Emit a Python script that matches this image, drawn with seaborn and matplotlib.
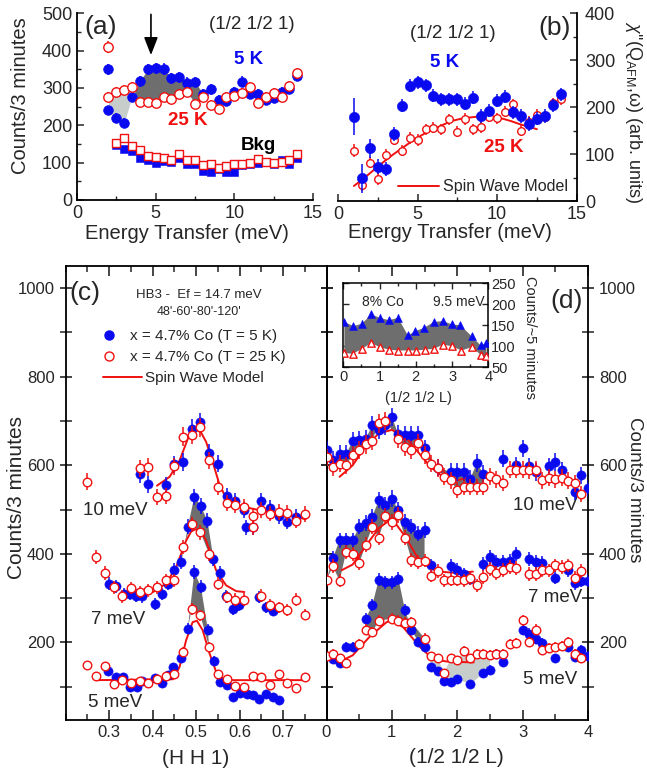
import numpy as np
import matplotlib
matplotlib.use("Agg")
import matplotlib.pyplot as plt
from matplotlib.ticker import MultipleLocator, FixedLocator
from matplotlib.lines import Line2D
import seaborn as sns

# ---------------- data ----------------
# (a) constant-Q energy scans at (1/2 1/2 1)
a_E = [2, 2.5, 3, 3.5, 4, 4.5, 5, 5.5, 6, 6.5, 7, 7.5, 8, 8.5, 9, 9.5, 10,
       10.5, 11, 11.5, 12, 12.5, 13, 13.5, 14]
a_sig5 = [240, 220, 207, 277, 318, 350, 353, 351, 326, 329, 314, 316, 285, 296,
          268, 265, 288, 317, 284, 284, 268, 273, 288, 297, 332]
a_sig25 = [277, 288, 295, 303, 262, 262, 260, 277, 271, 284, 290, 258, 276, 254,
           245, 276, 278, 287, 303, 260, 277, 287, 275, 306, 340]
a_extra_E = [2]
a_extra5 = [350]
a_extra25 = [410]
a_bkgE = [2.5, 3, 3.5, 4, 4.5, 5, 5.5, 6, 6.5, 7, 7.5, 8, 8.5, 9, 9.5, 10,
          10.5, 11, 11.5, 12, 12.5, 13, 13.5, 14]
a_bkg5 = [148, 137, 131, 113, 108, 99, 104, 102, 113, 97, 97, 78, 75, 84, 75, 75,
          95, 96, 100, 102, 97, 106, 96, 113]
a_bkg25 = [152, 166, 144, 135, 117, 115, 113, 108, 124, 108, 106, 93, 97, 86, 91,
           97, 96, 98, 110, 102, 100, 102, 108, 122]

# (b) chi'' at Q_AFM
b_E = [1, 1.5, 2, 2.5, 3, 3.5, 4, 4.5, 5, 5.5, 6, 6.5, 7, 7.5, 8, 8.5, 9, 9.5,
       10, 10.5, 11, 11.5, 12, 12.5, 13, 13.5, 14]
b_5K = [180, 48, 112, 73, 68, 142, 203, 246, 253, 247, 224, 217, 217, 217, 207,
        220, 181, 192, 214, 222, 189, 181, 164, 175, 181, 204, 227]
b_5K_err = [40, 30, 20, 16, 15, 15, 14, 14, 14, 14, 14, 14, 14, 14, 14, 14, 14,
            14, 14, 14, 14, 14, 14, 14, 14, 14, 14]
b_25K = [107, 35, 82, 47, 98, 131, 107, 134, 130, 153, 156, 153, 174, 148, 175,
         153, 157, 180, 176, 190, 206, 150, 169, 183, 180, 208, 217]
b_25K_err = [14, 14, 12, 12, 12, 12, 12, 12, 12, 12, 12, 12, 12, 12, 12, 12, 12,
             12, 12, 12, 12, 12, 12, 12, 12, 12, 12]
b_model_E = [1, 1.5, 2, 2.5, 3, 3.5, 4, 4.5, 5.1, 5.6, 6.2, 6.7, 7.2, 7.7, 8.3,
             8.8, 9.3, 9.8, 10.4, 10.9, 11.4, 12, 12.5]
b_model = [32, 45, 59, 73, 87, 100, 112, 124, 137, 147, 156, 164, 171, 175, 178,
           180, 180, 178, 175, 170, 164, 158, 153]

# (c) (H H 1) scans
c10_H5 = [0.37, 0.39, 0.43, 0.45, 0.47, 0.49, 0.51, 0.53, 0.55, 0.57, 0.59, 0.61,
          0.65, 0.67, 0.69, 0.71, 0.73]
c10_5K = [580, 557, 555, 602, 608, 683, 698, 628, 604, 530, 519, 500, 519, 503,
          486, 473, 484]
c10_H25 = [0.25, 0.37, 0.39, 0.41, 0.43, 0.45, 0.47, 0.49, 0.51, 0.53, 0.55, 0.57,
           0.59, 0.61, 0.63, 0.65, 0.67, 0.69, 0.71, 0.73, 0.75]
c10_25K = [563, 593, 596, 529, 531, 598, 665, 668, 686, 611, 551, 515, 510, 507,
           486, 499, 491, 495, 493, 475, 490]
c10_modH = [0.41, 0.439, 0.462, 0.481, 0.492, 0.5, 0.511, 0.523, 0.538, 0.553,
            0.569, 0.584, 0.615, 0.645, 0.683, 0.721, 0.752]
c10_mod = [554, 574, 611, 660, 677, 680, 675, 653, 608, 559, 525, 514, 505, 499,
           493, 486, 478]

c7_H5 = [0.299, 0.315, 0.334, 0.347, 0.361, 0.376, 0.405, 0.421, 0.435, 0.450,
         0.466, 0.481, 0.496, 0.511, 0.526, 0.540, 0.555, 0.569, 0.584, 0.599,
         0.614, 0.630, 0.644, 0.660, 0.677]
c7_5K = [333, 327, 309, 309, 306, 304, 286, 309, 333, 364, 381, 461, 529, 508,
         475, 389, 357, 304, 276, 284, 460, 460, 303, 279, 272]
c7_H25 = [0.27, 0.29, 0.31, 0.33, 0.35, 0.37, 0.39, 0.41, 0.43, 0.45, 0.47, 0.49,
          0.51, 0.53, 0.55, 0.57, 0.59, 0.61, 0.63, 0.65, 0.67, 0.69, 0.71, 0.73,
          0.75]
c7_25K = [394, 357, 325, 304, 323, 314, 318, 325, 340, 340, 416, 467, 449, 400,
          333, 303, 297, 297, 460, 306, 284, 279, 274, 297, 263]
c7_modH = [0.355, 0.401, 0.431, 0.454, 0.477, 0.489, 0.5, 0.511, 0.523, 0.546,
           0.569, 0.592, 0.611]
c7_mod = [312, 314, 333, 370, 430, 451, 456, 451, 430, 363, 329, 316, 314]

c5_H5 = [0.298, 0.315, 0.332, 0.347, 0.363, 0.376, 0.405, 0.422, 0.435, 0.448,
         0.466, 0.481, 0.496, 0.511, 0.527, 0.542, 0.555, 0.570, 0.585, 0.601,
         0.616, 0.630, 0.645, 0.660, 0.676, 0.691]
c5_5K = [136, 122, 122, 100, 100, 114, 119, 109, 127, 145, 166, 231, 359, 326,
         229, 159, 110, 103, 78, 85, 84, 81, 73, 83, 76, 70]
c5_H25 = [0.25, 0.27, 0.29, 0.31, 0.33, 0.35, 0.37, 0.39, 0.41, 0.43, 0.45, 0.47,
          0.49, 0.51, 0.53, 0.55, 0.57, 0.59, 0.61, 0.63, 0.65, 0.67, 0.69, 0.71,
          0.73, 0.75]
c5_25K = [149, 124, 147, 106, 115, 108, 112, 108, 117, 124, 129, 179, 276, 261,
          189, 129, 117, 102, 100, 124, 123, 105, 129, 109, 97, 121]
c5_modH = [0.271, 0.447, 0.462, 0.477, 0.492, 0.502, 0.515, 0.531, 0.546, 0.561,
           0.584, 0.75]
c5_mod = [115, 117, 145, 205, 246, 249, 228, 175, 134, 119, 115, 115]

# (d) (1/2 1/2 L) scans
d10_L5 = [0.0, 0.1, 0.2, 0.3, 0.4, 0.5, 0.6, 0.7, 0.8, 0.9, 1.0, 1.1, 1.2, 1.3,
          1.4, 1.5, 1.7, 1.9, 2.0, 2.1, 2.2, 2.3, 2.4, 2.7, 2.9, 3.0, 3.1, 3.2,
          3.4, 3.5, 3.6, 3.8, 3.9, 4.0]
d10_5K = [634, 613, 626, 625, 655, 658, 660, 690, 680, 690, 709, 670, 668, 668,
          668, 638, 595, 585, 585, 585, 570, 605, 581, 615, 600, 638, 598, 585,
          598, 608, 589, 540, 578, 548]
d10_L25 = [0.0, 0.1, 0.2, 0.3, 0.4, 0.5, 0.6, 0.7, 0.8, 0.9, 1.1, 1.2, 1.3, 1.4,
           1.5, 1.6, 1.7, 1.8, 1.9, 2.0, 2.1, 2.2, 2.3, 2.4, 2.5, 2.6, 2.7, 2.8,
           2.9, 3.0, 3.1, 3.2, 3.3, 3.4, 3.5, 3.6, 3.7, 3.8, 3.9]
d10_25K = [618, 596, 604, 600, 623, 634, 647, 656, 695, 700, 660, 641, 635, 650,
           623, 604, 594, 574, 566, 544, 551, 551, 551, 551, 575, 568, 560, 590,
           590, 590, 589, 590, 566, 572, 568, 572, 565, 559, 535]
d10_modL = [0.2, 0.4, 0.6, 0.8, 1.0, 1.2, 1.4, 1.6, 1.8, 2.0, 2.2]
d10_mod = [574, 600, 643, 672, 680, 665, 630, 595, 572, 566, 574]

d7_L5 = [0.1, 0.2, 0.3, 0.4, 0.5, 0.6, 0.7, 0.8, 0.9, 1.0, 1.1, 1.2, 1.3, 1.4,
         1.5, 1.6, 1.9, 2.0, 2.1, 2.2, 2.4, 2.5, 2.6, 2.7, 2.8, 2.9, 3.1, 3.2,
         3.3, 3.5, 3.7, 3.8, 3.9, 4.0]
d7_5K = [391, 431, 431, 431, 461, 470, 484, 521, 510, 525, 499, 473, 461, 446,
         454, 374, 372, 364, 354, 344, 378, 394, 381, 381, 385, 400, 389, 381,
         379, 346, 364, 334, 339, 339]
d7_L25 = [0.0, 0.1, 0.2, 0.3, 0.4, 0.5, 0.6, 0.7, 0.8, 0.9, 1.0, 1.1, 1.2, 1.3,
          1.4, 1.5, 1.6, 1.7, 1.8, 1.9, 2.0, 2.1, 2.2, 2.3, 2.4, 2.5, 2.6, 2.7,
          2.8, 2.9, 3.1, 3.2, 3.3, 3.4, 3.5, 3.6, 3.7, 3.8, 3.9]
d7_25K = [342, 372, 339, 404, 399, 379, 421, 461, 437, 485, 472, 488, 437, 387,
          381, 385, 351, 361, 340, 342, 342, 340, 345, 329, 348, 366, 357, 364,
          370, 368, 355, 355, 363, 363, 374, 370, 374, 346, 361]
d7_modL = [0.23, 0.4, 0.6, 0.8, 1.0, 1.2, 1.4, 1.6, 1.8, 2.0, 2.24]
d7_mod = [363, 376, 418, 458, 480, 440, 390, 366, 359, 357, 360]

d5_L5 = [0.1, 0.2, 0.3, 0.4, 0.6, 0.7, 0.8, 0.9, 1.0, 1.1, 1.2, 1.3, 1.4, 1.5,
         1.6, 1.7, 1.8, 1.9, 2.0, 2.2, 2.4, 2.5, 2.6, 2.7, 3.0, 3.1, 3.2, 3.3,
         3.5, 3.7, 3.8, 3.9, 4.0]
d5_5K = [162, 154, 189, 189, 254, 284, 342, 336, 336, 344, 274, 229, 202, 189,
         145, 136, 112, 110, 117, 106, 130, 139, 175, 157, 228, 220, 207, 199,
         164, 190, 168, 183, 169]
d5_L25 = [0.0, 0.1, 0.2, 0.3, 0.5, 0.6, 0.7, 0.8, 1.0, 1.1, 1.2, 1.3, 1.5, 1.6,
          1.7, 1.8, 1.9, 2.0, 2.1, 2.2, 2.3, 2.4, 2.5, 2.6, 2.7, 2.8, 2.9, 3.0,
          3.1, 3.2, 3.3, 3.4, 3.5, 3.6, 3.7, 3.8, 3.9]
d5_25K = [169, 175, 164, 153, 197, 229, 224, 249, 254, 249, 244, 246, 209, 169,
          164, 132, 164, 160, 181, 164, 175, 174, 172, 175, 175, 197, 198, 250,
          201, 229, 183, 187, 190, 192, 201, 175, 166]
d5_modL = [0.15, 0.4, 0.66, 0.92, 1.0, 1.17, 1.43, 1.63, 1.84, 2.25]
d5_mod = [153, 171, 213, 246, 249, 235, 190, 162, 157, 155]

# inset of (d): 8% Co, 9.5 meV
i_L5 = [0.03, 0.28, 0.52, 0.77, 1.0, 1.26, 1.51, 1.78, 1.99, 2.23, 2.5, 2.75,
        3.0, 3.23, 3.54, 3.79, 3.95]
i_5K = [158, 148, 154, 176, 168, 162, 168, 126, 136, 144, 158, 160, 152, 150,
        124, 102, 108]
i_L25 = [0.03, 0.26, 0.52, 0.77, 1.0, 1.26, 1.51, 1.78, 2.01, 2.25, 2.5, 2.75,
         3.0, 3.26, 3.54, 3.79, 3.95]
i_25K = [84, 82, 94, 108, 98, 92, 90, 90, 90, 92, 94, 104, 100, 90, 98, 80, 76]

# ---------------- style ----------------
sns.set_theme(style="ticks")
plt.rcParams["font.family"] = ["Liberation Sans", "DejaVu Sans"]
plt.rcParams["mathtext.fontset"] = "custom"
plt.rcParams["mathtext.rm"] = "Liberation Sans"
plt.rcParams["mathtext.it"] = "Liberation Sans:italic"
plt.rcParams["axes.linewidth"] = 1.3
plt.rcParams["axes.edgecolor"] = "black"

BLUE = "#0a0af0"
RED = "#f01010"
DARK = "#6e6e6e"
LIGHT = "#c6cdca"

W, H = 647, 774
fig = plt.figure(figsize=(W / 100, H / 100), dpi=100)


def rect(l, t, r, b):
    return [l / W, 1 - b / H, (r - l) / W, (b - t) / H]


axa = fig.add_axes(rect(77, 13.3, 313, 200))
axb = fig.add_axes(rect(338, 13.3, 576.7, 201))
axc = fig.add_axes(rect(65.7, 266, 326.5, 720))
axd = fig.add_axes(rect(326.5, 266, 588, 720))
axi = fig.add_axes(rect(343.3, 283.3, 488.3, 367.3))


def pts(ax, x, y, err, color, marker="o", filled=True, s=42, z=5, elw=1.1):
    x = np.asarray(x, float)
    y = np.asarray(y, float)
    ax.errorbar(x, y, yerr=err, fmt="none", ecolor=color, elinewidth=elw,
                capsize=0, zorder=z - 1)
    if filled:
        sns.scatterplot(x=x, y=y, ax=ax, color=color, marker=marker, s=s,
                        edgecolor=color, linewidth=0.4, zorder=z, legend=False)
    else:
        sns.scatterplot(x=x, y=y, ax=ax, marker=marker, s=s, facecolor="white",
                        edgecolor=color, linewidth=1.0, zorder=z, legend=False)


def model(ax, x, y, lw=1.4):
    sns.lineplot(x=x, y=y, ax=ax, color=RED, lw=lw, sort=False, estimator=None,
                 zorder=3)


def band(ax, xa, ya, xb, yb, lo, hi, color):
    xa, ya, xb, yb = map(lambda v: np.asarray(v, float), (xa, ya, xb, yb))
    ma = (xa >= lo) & (xa <= hi)
    mb = (xb >= lo) & (xb <= hi)
    ax.fill(np.r_[xa[ma], xb[mb][::-1]], np.r_[ya[ma], yb[mb][::-1]],
            color=color, lw=0, zorder=1)


def poisson(v):
    return np.sqrt(np.asarray(v, float))


# ---------------- (a) ----------------
ax = axa
E = np.asarray(a_E, float)
s5 = np.asarray(a_sig5, float)
s25 = np.asarray(a_sig25, float)
m = E <= 4
ax.fill_between(E[m], s5[m], s25[m], where=s25[m] > s5[m], interpolate=True,
                color=LIGHT, lw=0, zorder=1)
m = (E >= 3.5) & (E <= 8)
ax.fill_between(E[m], s5[m], s25[m], where=s5[m] > s25[m], interpolate=True,
                color=DARK, lw=0, zorder=1)
pts(ax, a_E, a_sig5, poisson(a_sig5) * 0.8, BLUE, s=50)
pts(ax, a_extra_E, a_extra5, poisson(a_extra5) * 0.8, BLUE, s=50)
pts(ax, a_E, a_sig25, poisson(a_sig25) * 0.8, RED, filled=False, s=46, z=7)
pts(ax, a_extra_E, a_extra25, poisson(a_extra25) * 0.8, RED, filled=False, s=46, z=7)
pts(ax, a_bkgE, a_bkg5, poisson(a_bkg5) * 0.5, BLUE, marker="s", s=28)
pts(ax, a_bkgE, a_bkg25, poisson(a_bkg25) * 0.5, RED, marker="s", filled=False,
    s=26, z=7)
ax.annotate("", xy=(4.7, 388), xytext=(4.7, 497),
            arrowprops=dict(arrowstyle="-|>,head_length=0.9,head_width=0.35",
                            color="black", lw=1.2, shrinkA=0, shrinkB=0))
ax.text(1.5, 463, "(a)", fontsize=19, ha="center", va="center")
ax.text(11.1, 469, "(1/2 1/2 1)", fontsize=13.5, ha="center", va="center")
ax.text(10.9, 375, "5 K", fontsize=13.5, fontweight="bold", color=BLUE,
        ha="center", va="center")
ax.text(7.05, 214, "25 K", fontsize=13.5, fontweight="bold", color=RED,
        ha="center", va="center")
ax.text(11.5, 147, "Bkg", fontsize=13.5, fontweight="bold", color="black",
        ha="center", va="center")
ax.set_xlim(0, 15)
ax.set_ylim(0, 500)
ax.xaxis.set_major_locator(MultipleLocator(5))
ax.xaxis.set_minor_locator(MultipleLocator(2.5))
ax.yaxis.set_major_locator(MultipleLocator(100))
ax.yaxis.set_minor_locator(MultipleLocator(50))
ax.spines["top"].set_visible(False)
ax.spines["right"].set_visible(False)
ax.tick_params(which="both", direction="in", labelsize=13)
ax.tick_params(which="major", length=5, width=1.1)
ax.tick_params(which="minor", length=3, width=1.0)
ax.set_xlabel("Energy Transfer (meV)", fontsize=14.5)
ax.set_ylabel("Counts/3 minutes", fontsize=14.5)

# ---------------- (b) ----------------
ax = axb
model(ax, b_model_E, b_model)
pts(ax, b_E, b_25K, b_25K_err, RED, filled=False, s=30, z=5)
pts(ax, b_E, b_5K, b_5K_err, BLUE, s=55, z=7)
ax.text(7.2, 358, "(1/2 1/2 1)", fontsize=13.5, ha="center", va="center")
ax.text(13.6, 369, "(b)", fontsize=19, ha="center", va="center")
ax.text(6.7, 296, "5 K", fontsize=13.5, fontweight="bold", color=BLUE,
        ha="center", va="center")
ax.text(10.4, 115, "25 K", fontsize=13.5, fontweight="bold", color=RED,
        ha="center", va="center")
ax.legend(handles=[Line2D([], [], color=RED, lw=1.4)], labels=["Spin Wave Model"],
          loc="center left", bbox_to_anchor=(0.251, 0.075), frameon=False,
          borderpad=0, borderaxespad=0, handlelength=2.6, handletextpad=0.2,
          fontsize=11.5)
ax.set_xlim(0, 15)
ax.set_ylim(0, 400)
ax.xaxis.set_major_locator(MultipleLocator(5))
ax.xaxis.set_minor_locator(MultipleLocator(2.5))
ax.yaxis.set_major_locator(MultipleLocator(100))
ax.yaxis.set_minor_locator(MultipleLocator(50))
ax.yaxis.tick_right()
ax.yaxis.set_label_position("right")
ax.spines["top"].set_visible(False)
ax.spines["left"].set_visible(False)
ax.tick_params(which="both", direction="in", labelsize=13)
ax.tick_params(which="major", length=5, width=1.1)
ax.tick_params(which="minor", length=3, width=1.0)
ax.tick_params(axis="y", which="major", pad=6)
ax.set_xlabel("Energy Transfer (meV)", fontsize=14.5)
ax.set_ylabel(r"$\chi$''(Q$_{\mathrm{AFM}}$,ω) (arb. units)", fontsize=13,
              rotation=-90)

# ---------------- (c) ----------------
ax = axc
band(ax, c7_H5, c7_5K, c7_H25, c7_25K, 0.46, 0.545, DARK)
band(ax, c5_H5, c5_5K, c5_H25, c5_25K, 0.475, 0.53, DARK)
for hx, yv in ((c10_modH, c10_mod), (c7_modH, c7_mod), (c5_modH, c5_mod)):
    model(ax, hx, yv)
for hx, yv in ((c10_H5, c10_5K), (c7_H5, c7_5K), (c5_H5, c5_5K)):
    pts(ax, hx, yv, poisson(yv) * 0.8, BLUE, s=44)
for hx, yv in ((c10_H25, c10_25K), (c7_H25, c7_25K), (c5_H25, c5_25K)):
    pts(ax, hx, yv, poisson(yv) * 0.8, RED, filled=False, s=38, z=7)
ax.text(0.244, 990, "(c)", fontsize=19, ha="center", va="center")
ax.text(0.507, 985, "HB3 -  Ef = 14.7 meV", fontsize=9.5, ha="center", va="center")
ax.text(0.507, 947, "48'-60'-80'-120'", fontsize=9, ha="center", va="center")
ax.text(0.313, 499, "10 meV", fontsize=13.5, ha="center", va="center")
ax.text(0.32, 251, "7 meV", fontsize=13.5, ha="center", va="center")
ax.text(0.313, 65, "5 meV", fontsize=13.5, ha="center", va="center")
leg_kw = dict(loc="center left", frameon=False, borderpad=0, borderaxespad=0,
              fontsize=11)
l1 = ax.legend(handles=[Line2D([], [], ls="none", marker="o", ms=6.5, color=BLUE)],
               labels=["x = 4.7% Co (T = 5 K)"], bbox_to_anchor=(0.137, 0.8458),
               handlelength=1.0, handletextpad=0.87, **leg_kw)
ax.add_artist(l1)
l2 = ax.legend(handles=[Line2D([], [], ls="none", marker="o", ms=6.5, mfc="white",
                               mec=RED, mew=1.0)],
               labels=["x = 4.7% Co (T = 25 K)"], bbox_to_anchor=(0.137, 0.7996),
               handlelength=1.0, handletextpad=0.87, **leg_kw)
ax.add_artist(l2)
ax.legend(handles=[Line2D([], [], color=RED, lw=1.4)], labels=["Spin Wave Model"],
          bbox_to_anchor=(0.1433, 0.7533), handlelength=2.55, handletextpad=0.2,
          **leg_kw)
ax.set_xlim(0.2, 0.8)
ax.set_ylim(25, 1050)
ax.xaxis.set_major_locator(FixedLocator([0.3, 0.4, 0.5, 0.6, 0.7]))
ax.xaxis.set_minor_locator(MultipleLocator(0.05))
ax.yaxis.set_major_locator(MultipleLocator(200))
ax.yaxis.set_minor_locator(MultipleLocator(100))
ax.tick_params(axis="x", which="both", direction="in", top=True, labelsize=12)
ax.tick_params(axis="y", which="both", direction="inout", right=True, labelsize=12)
ax.tick_params(which="major", length=7, width=1.2)
ax.tick_params(which="minor", length=4.5, width=1.1)
ax.tick_params(axis="y", which="major", length=9)
ax.tick_params(axis="y", which="minor", length=9)
ax.set_xlabel("(H H 1)", fontsize=15)
ax.set_ylabel("Counts/3 minutes", fontsize=15)

# ---------------- (d) ----------------
ax = axd
band(ax, d10_L5, d10_5K, d10_L25, d10_25K, 0.0, 2.45, DARK)
band(ax, d7_L5, d7_5K, d7_L25, d7_25K, 0.0, 1.55, DARK)
band(ax, d5_L5, d5_5K, d5_L25, d5_25K, 0.55, 1.55, DARK)
band(ax, d5_L5, d5_5K, d5_L25, d5_25K, 1.55, 2.55, LIGHT)
for lx, yv in ((d10_modL, d10_mod), (d7_modL, d7_mod), (d5_modL, d5_mod)):
    model(ax, lx, yv)
for lx, yv in ((d10_L5, d10_5K), (d7_L5, d7_5K), (d5_L5, d5_5K)):
    pts(ax, lx, yv, poisson(yv) * 0.8, BLUE, s=44)
for lx, yv in ((d10_L25, d10_25K), (d7_L25, d7_25K), (d5_L25, d5_25K)):
    pts(ax, lx, yv, poisson(yv) * 0.8, RED, filled=False, s=38, z=7)
ax.text(3.67, 972, "(d)", fontsize=19, ha="center", va="center")
ax.text(3.34, 510, "10 meV", fontsize=13.5, ha="center", va="center")
ax.text(3.5, 301, "7 meV", fontsize=13.5, ha="center", va="center")
ax.text(3.42, 116, "5 meV", fontsize=13.5, ha="center", va="center")
ax.set_xlim(0, 4)
ax.set_ylim(25, 1050)
ax.xaxis.set_major_locator(MultipleLocator(1))
ax.xaxis.set_minor_locator(MultipleLocator(0.5))
ax.yaxis.set_major_locator(MultipleLocator(200))
ax.yaxis.set_minor_locator(MultipleLocator(100))
ax.yaxis.tick_right()
ax.yaxis.set_label_position("right")
ax.tick_params(axis="x", which="both", direction="in", top=True, labelsize=12)
ax.tick_params(axis="y", which="both", direction="inout", left=True, right=True,
               labelleft=False, labelright=True, labelsize=12)
ax.tick_params(which="major", length=7, width=1.2)
ax.tick_params(which="minor", length=4.5, width=1.1)
ax.tick_params(axis="y", which="major", length=9)
ax.tick_params(axis="y", which="minor", length=9)
ax.set_xlabel("(1/2 1/2 L)", fontsize=15)
ax.set_ylabel("Counts/3 minutes", fontsize=13.5, rotation=-90)

# ---------------- inset ----------------
ax = axi
band(ax, i_L5, i_5K, i_L25, i_25K, -1, 5, DARK)
pts(ax, i_L5, i_5K, poisson(i_5K) * 0.6, BLUE, marker="^", s=32, elw=0.9)
pts(ax, i_L25, i_25K, poisson(i_25K) * 0.6, RED, marker="^", filled=False, s=28,
    z=7, elw=0.9)
ax.text(1.1, 206, "8% Co", fontsize=10, ha="center", va="center")
ax.text(3.2, 206, "9.5 meV", fontsize=10, ha="center", va="center")
ax.set_xlim(0, 4)
ax.set_ylim(50, 250)
ax.xaxis.set_major_locator(MultipleLocator(1))
ax.xaxis.set_minor_locator(MultipleLocator(0.5))
ax.yaxis.set_major_locator(MultipleLocator(50))
ax.yaxis.tick_right()
ax.yaxis.set_label_position("right")
ax.tick_params(which="both", direction="in", top=True, left=True, right=True,
               labelsize=10.5, width=1.0, pad=2)
ax.tick_params(which="major", length=4)
ax.tick_params(which="minor", length=2.5)
for sp in ax.spines.values():
    sp.set_linewidth(1.1)
ax.set_xlabel("(1/2 1/2 L)", fontsize=10.5)
ax.set_ylabel("Counts/~5 minutes", fontsize=10.5, rotation=-90)

# ---------------- label placement ----------------
def place(axis, x, y):
    axis.label.set_va("center")
    axis.label.set_ha("center")
    axis.label.set_rotation_mode("anchor")
    axis.set_label_coords(x, y)


place(axa.xaxis, 0.464, -0.177)
place(axa.yaxis, -0.241, 0.557)
place(axb.xaxis, 0.469, -0.17)
place(axb.yaxis, 1.24, 0.474)
place(axc.xaxis, 0.5, -0.084)
place(axc.yaxis, -0.187, 0.49)
place(axd.xaxis, 0.498, -0.0815)
place(axd.yaxis, 1.176, 0.507)
place(axi.xaxis, 0.515, -0.365)
place(axi.yaxis, 1.288, 0.36)

for a in (axa, axb, axc, axd):
    a.set_facecolor("none")

fig.savefig("out.png", dpi=100, facecolor="white")
